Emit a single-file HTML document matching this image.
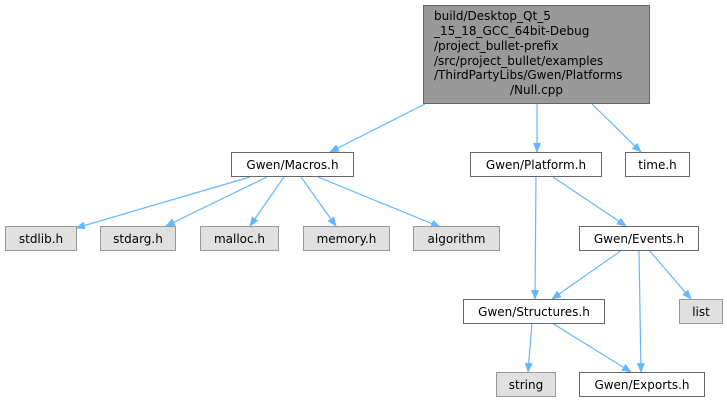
<!DOCTYPE html>
<html><head><meta charset="utf-8"><style>
html,body{margin:0;padding:0;background:#fff;}
svg{display:block;font-family:"DejaVu Sans","Liberation Sans",sans-serif;}
</style></head><body>
<svg width="727" height="403" viewBox="0 0 727 403" xmlns="http://www.w3.org/2000/svg">
<defs>
<marker id="a" markerWidth="10" markerHeight="10" refX="9" refY="5" orient="auto" markerUnits="userSpaceOnUse">
<path d="M0,1 L10,5 L0,9 Z" fill="#63b8ff"/>
</marker>
</defs>
<g stroke="#63b8ff" stroke-width="1.2" fill="none" marker-end="url(#a)">
<line x1="425" y1="104" x2="330" y2="152"/>
<line x1="537" y1="104" x2="537" y2="152"/>
<line x1="592" y1="104" x2="641" y2="152"/>
<line x1="250" y1="177" x2="76" y2="228"/>
<line x1="267" y1="177" x2="166" y2="226"/>
<line x1="284" y1="177" x2="250" y2="226"/>
<line x1="301" y1="177" x2="336" y2="226"/>
<line x1="318" y1="177" x2="440" y2="227"/>
<line x1="536" y1="177" x2="535" y2="299"/>
<line x1="553" y1="177" x2="626" y2="226"/>
<line x1="622" y1="250" x2="552" y2="299"/>
<line x1="649" y1="250" x2="691" y2="299"/>
<line x1="639" y1="250" x2="641" y2="372"/>
<line x1="532" y1="323" x2="528" y2="372"/>
<line x1="552" y1="323" x2="631" y2="372"/>
</g>
<g stroke-width="1">
<rect x="423.5" y="5.5" width="226" height="98" fill="#999" stroke="#666"/>
<rect x="231.5" y="152.5" width="122" height="24" fill="#fff" stroke="#666"/>
<rect x="470.5" y="152.5" width="131" height="24" fill="#fff" stroke="#666"/>
<rect x="625.5" y="152.5" width="64" height="24" fill="#fff" stroke="#666"/>
<rect x="5.5" y="226.5" width="71" height="24" fill="#e0e0e0" stroke="#999"/>
<rect x="100.5" y="226.5" width="75" height="24" fill="#e0e0e0" stroke="#999"/>
<rect x="200.5" y="226.5" width="78" height="24" fill="#e0e0e0" stroke="#999"/>
<rect x="303.5" y="226.5" width="86" height="24" fill="#e0e0e0" stroke="#999"/>
<rect x="413.5" y="226.5" width="86" height="24" fill="#e0e0e0" stroke="#999"/>
<rect x="579.5" y="226.5" width="119" height="24" fill="#fff" stroke="#666"/>
<rect x="463.5" y="299.5" width="141" height="24" fill="#fff" stroke="#666"/>
<rect x="679.5" y="299.5" width="43" height="24" fill="#e0e0e0" stroke="#999"/>
<rect x="496.5" y="372.5" width="59" height="24" fill="#e0e0e0" stroke="#999"/>
<rect x="579.5" y="372.5" width="125" height="24" fill="#fff" stroke="#666"/>
</g>
<g font-size="12" fill="#000">
<text x="434" y="20">build/Desktop_Qt_5</text>
<text x="434" y="35">_15_18_GCC_64bit-Debug</text>
<text x="434" y="50">/project_bullet-prefix</text>
<text x="434" y="65">/src/project_bullet/examples</text>
<text x="434" y="79">/ThirdPartyLibs/Gwen/Platforms</text>
<text x="536.5" y="94" text-anchor="middle">/Null.cpp</text>
<g text-anchor="middle">
<text x="292.5" y="169">Gwen/Macros.h</text>
<text x="536" y="169">Gwen/Platform.h</text>
<text x="657.5" y="169">time.h</text>
<text x="41" y="243">stdlib.h</text>
<text x="138" y="243">stdarg.h</text>
<text x="239.5" y="243">malloc.h</text>
<text x="346.5" y="243">memory.h</text>
<text x="456.5" y="243">algorithm</text>
<text x="639" y="243">Gwen/Events.h</text>
<text x="534" y="316">Gwen/Structures.h</text>
<text x="701" y="316">list</text>
<text x="526" y="389">string</text>
<text x="642" y="389">Gwen/Exports.h</text>
</g>
</g>
</svg>
</body></html>
